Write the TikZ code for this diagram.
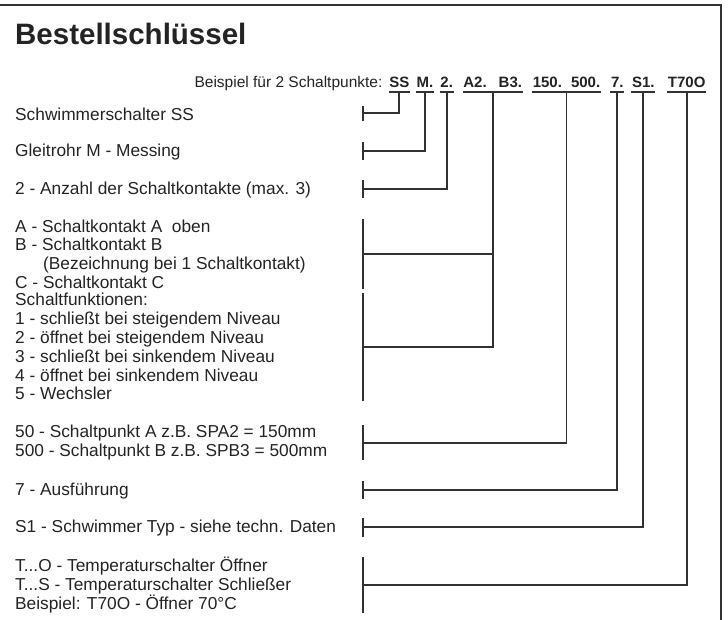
\documentclass[tikz,border=0pt]{standalone}
\usepackage{fontspec}
\setmainfont{Liberation Sans}
\usetikzlibrary{positioning}
\definecolor{keyInk}{RGB}{35,35,35}
\definecolor{keyLine}{RGB}{50,50,50}
\newcommand{\rowstrut}{\rule[-0.5pt]{0pt}{15pt}}

\begin{document}
\begin{tikzpicture}[x=1pt,y=-1pt,
    every node/.style={text=keyInk},
    code/.style={font=\fontsize{15}{18}\selectfont\bfseries,inner xsep=0.5pt,inner ysep=0pt,text depth=3.6pt,anchor=base},
    item/.style={font=\fontsize{17.3}{18.8}\selectfont,align=left,inner sep=0pt,anchor=west,
      execute at begin node=\rowstrut,execute at end node=\rowstrut},
    link/.style={draw=keyLine,line width=1.8pt}]
  \useasboundingbox (0,0) rectangle (728,620);
  \draw[keyLine,line width=1.8pt] (0,5) -- (721,5) -- (721,620);

  \node[anchor=base west,inner sep=0pt,font=\fontsize{29.5}{32}\selectfont\bfseries] (title) at (15,45) {Bestellschlüssel};

  % key parts of the example
  \node[code] (ss) at (399.3,88) {SS};
  \node[code] (m) at (425,88) {M.};
  \node[code] (two) at (446.7,88) {2.};
  \node[code] (ab) at (492.7,88) {A2.\hspace{12pt}B3.};
  \node[code] (sp) at (566.5,88) {150.\hspace{9pt}500.};
  \node[code] (ver) at (617.3,88) {7.};
  \node[code] (fl) at (643.3,88) {S1.};
  \node[code] (tmp) at (686.7,88) {T70O};
  \node[anchor=base east,inner sep=0pt,font=\fontsize{15.5}{18}\selectfont] (expl) at ([xshift=-6pt]ss.base west) {Beispiel für 2 Schaltpunkte:};

  % explanations
  \node[item] (ssl) at (15,113.3) {Schwimmerschalter SS};
  \node[item] (tube) at (15,151) {Gleitrohr M - Messing};
  \node[item] (cnt) at (15,189) {2 - Anzahl der Schaltkontakte (max. 3)};
  \node[item] (conl) at (15,254.3) {A - Schaltkontakt A\ \ oben\\
    B - Schaltkontakt B\\
    \hspace*{28pt}(Bezeichnung bei 1 Schaltkontakt)\\
    C - Schaltkontakt C};
  \node[item,below right=4pt and 0pt of conl.south west] (fnl) {Schaltfunktionen:\\
    1 - schließt bei steigendem Niveau\\
    2 - öffnet bei steigendem Niveau\\
    3 - schließt bei sinkendem Niveau\\
    4 - öffnet bei sinkendem Niveau\\
    5 - Wechsler};
  \node[item] (spl) at (15,442.7) {50 - Schaltpunkt A z.B. SPA2 = 150mm\\
    500 - Schaltpunkt B z.B. SPB3 = 500mm};
  \node[item] (verl) at (15,490) {7 - Ausführung};
  \node[item] (fll) at (15,527.3) {S1 - Schwimmer Typ - siehe techn. Daten};
  \node[item] (tmpl) at (15,585) {T...O - Temperaturschalter Öffner\\
    T...S - Temperaturschalter Schließer\\
    Beispiel: T70O - Öffner 70°C};

  \coordinate (barx) at (363.3,0);

  \foreach \c in {ss,m,two,ab,sp,ver,fl,tmp}
    \draw[link] (\c.south west) -- (\c.south east);
  \foreach \c/\t in {ss/ssl,m/tube,two/cnt,ab/fnl,sp/spl,ver/verl,fl/fll,tmp/tmpl}
    \draw[link] (\c.south) |- (\t.west -| barx);
  \draw[link] (ab.south |- conl.west) -- (conl.west -| barx);
  \foreach \t in {ssl,tube,cnt,conl,fnl,spl,verl,fll,tmpl}
    \draw[link] (\t.north -| barx) -- (\t.south -| barx);
\end{tikzpicture}
\end{document}
